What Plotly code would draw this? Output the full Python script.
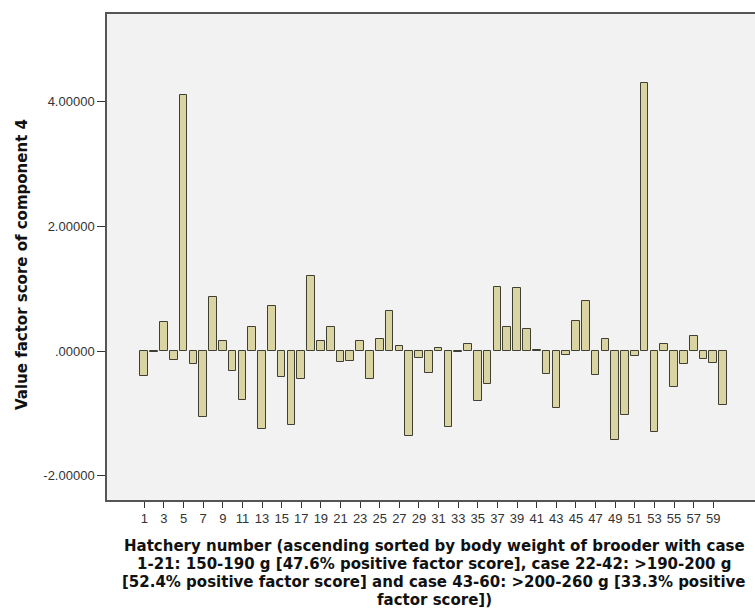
import plotly.graph_objects as go

hatchery = list(range(1, 61))
factor_score = [
    -0.40, -0.01, 0.46, -0.145, 4.11, -0.21, -1.065, 0.87, 0.16, -0.32,
    -0.79, 0.38, -1.25, 0.72, -0.42, -1.19, -0.45, 1.20, 0.16, 0.38,
    -0.18, -0.16, 0.16, -0.45, 0.20, 0.64, 0.08, -1.37, -0.11, -0.35,
    0.05, -1.22, -0.01, 0.12, -0.80, -0.53, 1.03, 0.39, 1.02, 0.35,
    0.02, -0.36, -0.92, -0.06, 0.49, 0.80, -0.39, 0.20, -1.42, -1.03,
    -0.08, 4.31, -1.30, 0.12, -0.57, -0.21, 0.24, -0.12, -0.19, -0.86,
]
x_tick_vals = list(range(1, 60, 2))
y_tick_vals = [-2, 0, 2, 4]
y_tick_text = ["-2.00000", ".00000", "2.00000", "4.00000"]

x_title_lines = [
    "Hatchery number (ascending sorted by body weight of brooder with case",
    "1-21: 150-190 g [47.6% positive factor score], case 22-42: >190-200 g",
    "[52.4% positive factor score] and case 43-60: >200-260 g [33.3% positive",
    "factor score])",
]
y_title = "Value factor score of component 4"

W, H = 755, 610
L, R, T, B = 107, 0, 14, 110
plot_h = H - T - B
plot_w = W - L - R

FONT = "Liberation Sans, Arial, sans-serif"
TITLE_FONT = "DejaVu Sans, Liberation Sans, sans-serif"

fig = go.Figure(go.Bar(
    x=hatchery, y=factor_score, width=0.78,
    marker=dict(color="#D9D4A2", line=dict(color="#3F3F33", width=1)),
))

annotations = []
line_centers_px = [546, 564, 582, 600]
for txt, py in zip(x_title_lines, line_centers_px):
    annotations.append(dict(
        text="<b>" + txt + "</b>", xref="paper", yref="paper",
        x=(434 - L) / plot_w, y=(H - B - py) / plot_h,
        xanchor="center", yanchor="middle", showarrow=False,
        font=dict(size=15, color="#111", family=TITLE_FONT),
    ))
annotations.append(dict(
    text="<b>" + y_title + "</b>", xref="paper", yref="paper",
    x=(22 - L) / plot_w, y=(H - B - 265) / plot_h, textangle=-90,
    xanchor="center", yanchor="middle", showarrow=False,
    font=dict(size=15, color="#111", family=TITLE_FONT),
))

fig.update_layout(
    width=W, height=H,
    margin=dict(l=L, r=R, t=T, b=B, autoexpand=False),
    paper_bgcolor="white", plot_bgcolor="#F2F2F2",
    font=dict(family=FONT, color="#222"),
    showlegend=False,
    bargap=0,
    annotations=annotations,
)
fig.update_xaxes(
    range=[-2.80, 63.25], tickvals=x_tick_vals, ticktext=[str(v) for v in x_tick_vals],
    showgrid=False, zeroline=False, showline=True, linecolor="#555", linewidth=1.5,
    mirror=True, ticks="outside", ticklen=6, tickcolor="#333", tickwidth=1,
    tickfont=dict(size=13, color="#333"), automargin=False,
)
fig.update_yaxes(
    range=[-2.39, 5.41], tickvals=y_tick_vals, ticktext=y_tick_text,
    showgrid=False, zeroline=False, showline=True, linecolor="#555", linewidth=1.5,
    ticks="outside", ticklen=8, tickcolor="#333", tickwidth=1,
    tickfont=dict(size=13, color="#333"), automargin=False,
)

fig.write_html("out.html",
               config={"displayModeBar": False},
               post_script="document.body.style.margin='0px';document.body.style.overflow='hidden';")
